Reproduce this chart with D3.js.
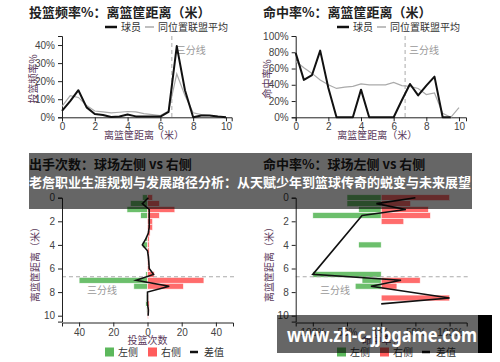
<!DOCTYPE html>
<html>
<head>
<meta charset="utf-8">
<script src="https://cdn.jsdelivr.net/npm/d3@7"></script>
<style>
  body { margin: 0; background: #fff; }
  svg { font-family: "Noto Sans CJK SC", "Noto Sans", sans-serif; }
  .tick text { font-size: 10px; fill: #444; }
  .domain, .tick line { stroke: #222; }
</style>
</head>
<body>
<svg id="chart" width="500" height="362"></svg>
<script>
// distance bins (metres)
const distances = [0, 0.5, 1, 1.5, 2, 2.5, 3, 3.5, 4, 4.5, 5, 5.5, 6, 6.5, 7, 7.5, 8, 8.5, 9, 9.5, 10];

// shot frequency by distance
const freqPlayer = [0.035, 0.09, 0.15, 0.055, 0.018, 0.013, 0.002, 0.004, 0.016, 0.005, 0.005, 0.005, 0.004, 0.03, 0.394, 0.15, 0, 0.01, 0.01, 0.004, 0];
const freqLeague = [0.06, 0.12, 0.11, 0.065, 0.035, 0.03, 0.025, 0.028, 0.032, 0.03, 0.02, 0.015, 0.01, 0.035, 0.24, 0.12, 0.025, 0.015, 0.01, 0.005, 0];

// field goal % by distance
const fgPlayer = [0.79, 0.46, 0.52, 0.82, 0.36, 0, 0, 0, 0.34, 0, 0, 0, 0, 0.21, 0.41, 0.27, 0.39, 0.5, 0, 0, null];
const fgLeague = [0.69, 0.61, 0.54, 0.46, 0.40, 0.355, 0.37, 0.38, 0.41, 0.40, 0.40, 0.40, 0.43, 0.39, 0.38, 0.355, 0.28, 0.30, 0.05, 0, 0.12];

// shot counts, left vs right side of the court
const shotsLeft  = [3, 10, 12, 4, 0, 0, 0, 1, 3, 0, 0, 0, 0, 1, 40, 8, 0, 0.5, 1, 0.5, 0];
const shotsRight = [3, 7, 16, 7, 3, 3, 1.5, 1, 1, 1, 1, 1, 1, 4, 33, 21, 0, 0.5, 1, 1, 0.5];
const shotsDiff  = [0.5, -3, 1, 1, 1, 1, 0.5, -1, -3, 0, 0.5, 0.8, 1, 3.5, -6.6, 12.7, 0, 0, 0, 0.5, 0.4];

// field goal %, left vs right side
const pctLeft  = [0.5, 0.5, 0.33, 1.0, 0, 0, 0, 0, 0.33, 0, 0, 0, 0, 1.0, 0.28, 0.38, 0, 0, 0, 0, 0];
const pctRight = [1.0, 0.43, 0.69, 0.72, 0.33, 0, 0, 0, 0, 0, 0, 0, 0, 0, 0.57, 0.23, 0, 1.0, 0, 0, 0];
const pctDiff  = [0.5, -0.07, 0.36, -0.28, null, null, null, null, null, null, null, null, null, -1.0, 0.29, -0.15, null, 1.0, 0, null, null];

const distTicks = [0, 2, 4, 6, 8, 10];
const threePoint = 6.7;

const svg = d3.select("#chart");
const labelColor = "#5b3a5b";
const green = "#5cb85c", red = "#ff5c5c";

function title(x, y, txt) {
  svg.append("text").attr("x", x).attr("y", y)
    .style("font-size", "13px").style("font-weight", "bold").attr("fill", "#222")
    .text(txt);
}

function rotLabel(x, y, txt) {
  svg.append("text")
    .attr("transform", `translate(${x},${y}) rotate(-90)`)
    .attr("text-anchor", "middle").attr("dy", "0.35em")
    .style("font-size", "10px").attr("fill", labelColor)
    .text(txt);
}

function label(x, y, txt, color, anchor) {
  return svg.append("text").attr("x", x).attr("y", y)
    .attr("text-anchor", anchor || "start").attr("dy", "0.35em")
    .style("font-size", "10px").attr("fill", color || "#333")
    .text(txt);
}

// top line charts
function lineChart(o) {
  const x = d3.scaleLinear().domain(o.xDomain).range(o.xRange);
  const y = d3.scaleLinear().domain(o.yDomain).range([117.3, 36]);

  svg.append("g")
    .attr("transform", `translate(0,${y(0)})`)
    .call(d3.axisBottom(x).tickValues(distTicks).tickSize(4).tickPadding(2));

  svg.append("g")
    .attr("transform", `translate(${o.xRange[0]},0)`)
    .call(d3.axisLeft(y).tickValues(o.yTicks).tickFormat(d3.format(".0%")).tickSize(4).tickPadding(3));

  // 3pt line
  svg.append("line")
    .attr("x1", x(threePoint)).attr("x2", x(threePoint))
    .attr("y1", 36).attr("y2", y(0))
    .attr("stroke", "#aaa").attr("stroke-dasharray", "4,3");
  label(x(threePoint) + 4, 50, "三分线", "#999");

  const line = d3.line()
    .defined(d => d[1] != null)
    .x(d => x(d[0])).y(d => y(d[1]));

  svg.append("path")
    .datum(distances.map((d, i) => [d, o.league[i]]))
    .attr("d", line).attr("fill", "none")
    .attr("stroke", "#aaa").attr("stroke-width", 1.2);

  svg.append("path")
    .datum(distances.map((d, i) => [d, o.player[i]]))
    .attr("d", line).attr("fill", "none")
    .attr("stroke", "#111").attr("stroke-width", 2).attr("stroke-linejoin", "round");

  // legend
  const lg = o.legendX;
  svg.append("line").attr("x1", lg).attr("x2", lg + 12).attr("y1", 27).attr("y2", 27)
    .attr("stroke", "#111").attr("stroke-width", 2.5);
  label(lg + 16, 27, "球员");
  svg.append("line").attr("x1", lg + 40).attr("x2", lg + 49).attr("y1", 27).attr("y2", 27)
    .attr("stroke", "#aaa").attr("stroke-width", 1.5);
  label(lg + 53, 27, "同位置联盟平均");

  title(o.titleX, 17, o.title);
  rotLabel(o.titleX + 4, 79, o.yLabel);
  label((o.xRange[0] + x(10)) / 2, 135, "离篮筐距离（米）", labelColor, "middle");
}

lineChart({
  title: "投篮频率%：离篮筐距离（米）", titleX: 29, yLabel: "投篮频率%",
  xDomain: [0, 10.35], xRange: [62, 231.7], yDomain: [0, 0.45],
  yTicks: [0, 0.1, 0.2, 0.3, 0.4], player: freqPlayer, league: freqLeague, legendX: 105
});

lineChart({
  title: "命中率%：离篮筐距离（米）", titleX: 263, yLabel: "命中率%",
  xDomain: [0, 10.43], xRange: [295.7, 466], yDomain: [0, 1],
  yTicks: [0, 0.2, 0.4, 0.6, 0.8, 1], player: fgPlayer, league: fgLeague, legendX: 337
});

// bottom left vs right charts
function sideChart(o) {
  const x = d3.scaleLinear().domain(o.xDomain).range(o.xRange);
  const y = d3.scaleLinear().domain([0, 10.5]).range([197.7, 321.6]);

  const rows = distances.map((d, i) => ({ d: d, l: o.left[i], r: o.right[i], v: o.diff[i] }));

  svg.append("g").selectAll("rect.left")
    .data(rows.filter(r => r.l > 0)).enter().append("rect")
    .attr("x", r => x(-r.l)).attr("width", r => x(0) - x(-r.l))
    .attr("y", r => y(r.d - 0.25)).attr("height", y(0.5) - y(0))
    .attr("fill", green).attr("fill-opacity", 0.9)
    .attr("stroke", "#fff").attr("stroke-width", 0.6);

  svg.append("g").selectAll("rect.right")
    .data(rows.filter(r => r.r > 0)).enter().append("rect")
    .attr("x", x(0)).attr("width", r => x(r.r) - x(0))
    .attr("y", r => y(r.d - 0.25)).attr("height", y(0.5) - y(0))
    .attr("fill", red).attr("fill-opacity", 0.9)
    .attr("stroke", "#fff").attr("stroke-width", 0.6);

  svg.append("line")
    .attr("x1", o.xRange[0]).attr("x2", o.dashEnd)
    .attr("y1", y(threePoint)).attr("y2", y(threePoint))
    .attr("stroke", "#aaa").attr("stroke-dasharray", "4,3");
  label(o.threeX, 290, "三分线", "#999");

  svg.append("path")
    .datum(rows.filter(r => r.v != null))
    .attr("d", d3.line().x(r => x(r.v)).y(r => y(r.d)))
    .attr("fill", "none").attr("stroke", "#111").attr("stroke-width", 1.6);

  svg.append("g")
    .attr("transform", `translate(0,322.5)`)
    .call(d3.axisBottom(x).tickValues(o.xTicks).tickFormat(o.fmt).tickSize(4).tickPadding(2));

  svg.append("g")
    .attr("transform", `translate(${o.xRange[0]},0)`)
    .call(d3.axisLeft(y).tickValues(distTicks).tickSize(4).tickPadding(3));

  title(o.titleX, 168.5, o.title);
  rotLabel(o.titleX + 6, 262, "离篮筐距离（米）");
  label(x(0), 340, o.xLabel, labelColor, "middle");

  // legend
  const lg = o.legendX;
  svg.append("rect").attr("x", lg).attr("y", 347.5).attr("width", 9).attr("height", 9).attr("fill", green);
  label(lg + 13, 352, "左侧");
  svg.append("rect").attr("x", lg + 43).attr("y", 347.5).attr("width", 9).attr("height", 9).attr("fill", red);
  label(lg + 56, 352, "右侧");
  svg.append("line").attr("x1", lg + 85).attr("x2", lg + 93).attr("y1", 352).attr("y2", 352)
    .attr("stroke", "#111").attr("stroke-width", 2.5);
  label(lg + 99, 352, "差值");
}

sideChart({
  title: "出手次数：球场左侧 vs 右侧", titleX: 29, xLabel: "投篮次数",
  xDomain: [-50, 50], xRange: [62, 233], xTicks: [-40, -20, 0, 20, 40],
  fmt: d => Math.abs(d), left: shotsLeft, right: shotsRight, diff: shotsDiff,
  dashEnd: 236, threeX: 87, legendX: 105
});

sideChart({
  title: "命中率%：球场左侧 vs 右侧", titleX: 263, xLabel: "命中率%",
  xDomain: [-1.25, 1.25], xRange: [295.7, 466.7], xTicks: [-1, -0.5, 0, 0.5, 1],
  fmt: d => d3.format(".0%")(Math.abs(d)), left: pctLeft, right: pctRight, diff: pctDiff,
  dashEnd: 470, threeX: 320, legendX: 337
});

// overlay banner
svg.append("rect").attr("x", 29).attr("y", 153).attr("width", 443).attr("height", 56)
  .attr("fill", "#000").attr("fill-opacity", 0.6);
svg.append("text").attr("x", 29).attr("y", 187)
  .attr("textLength", 442).attr("lengthAdjust", "spacingAndGlyphs")
  .style("font-size", "13px").style("font-weight", "bold").attr("fill", "#fff")
  .text("老詹职业生涯规划与发展路径分析：从天赋少年到篮球传奇的蜕变与未来展望");

// watermark
svg.append("rect").attr("x", 277).attr("y", 315).attr("width", 201).attr("height", 38)
  .attr("fill", "#000").attr("fill-opacity", 0.6);
svg.append("rect").attr("x", 478).attr("y", 315).attr("width", 14).attr("height", 38)
  .attr("fill", "#000");
svg.append("text").attr("x", 287).attr("y", 342)
  .attr("textLength", 190).attr("lengthAdjust", "spacingAndGlyphs")
  .style("font-family", "'Noto Sans', sans-serif")
  .style("font-size", "19px").style("font-weight", "bold").attr("fill", "#fff")
  .text("www.zh-c-jjbgame.com");
</script>
</body>
</html>
